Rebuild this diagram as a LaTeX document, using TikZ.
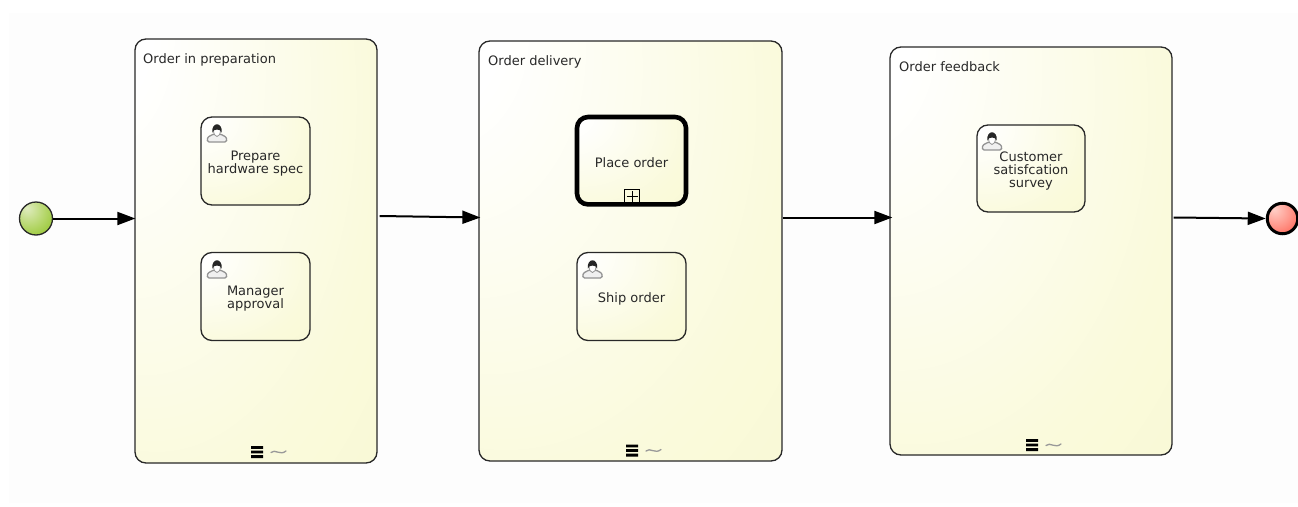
\documentclass[tikz,border=0pt]{standalone}
\usepackage{fontspec}
\setmainfont{DejaVu Sans}
\usetikzlibrary{arrows.meta}
\definecolor{bpmnyel}{HTML}{F8F8CE}
\definecolor{inkc}{HTML}{282828}
\definecolor{st1}{HTML}{E0ECC0}
\definecolor{st2}{HTML}{B4D668}
\definecolor{st3}{HTML}{8CC020}
\definecolor{en1}{HTML}{FFD0C8}
\definecolor{en2}{HTML}{FF9488}
\definecolor{en3}{HTML}{FF5848}
\newcommand\tstrut{\rule{0pt}{14pt}}
\pgfdeclareradialshading{boxshade}{\pgfpoint{-35bp}{30bp}}{color(0bp)=(white);color(10bp)=(white);color(45bp)=(bpmnyel!72!white);color(72bp)=(bpmnyel);color(100bp)=(bpmnyel)}
\pgfdeclareradialshading{startshade}{\pgfpoint{-14bp}{16bp}}{color(0bp)=(st1);color(25bp)=(st2);color(48bp)=(st3);color(100bp)=(st3)}
\pgfdeclareradialshading{endshade}{\pgfpoint{-14bp}{16bp}}{color(0bp)=(en1);color(25bp)=(en2);color(48bp)=(en3);color(100bp)=(en3)}
\tikzset{
  x=1pt,y=-1pt,
  subproc/.style={draw=inkc,line width=1.3pt,rounded corners=11pt,shading=boxshade,inner sep=0pt},
  task/.style={draw=inkc,line width=1.3pt,rounded corners=11pt,shading=boxshade,inner sep=0pt,minimum width=109pt,minimum height=88pt,align=center,font=\fontsize{13}{13}\selectfont,text=inkc},
  calltask/.style={task,draw=black,line width=4.6pt,minimum width=109pt,minimum height=87.4pt},
  sublabel/.style={anchor=base west,inner sep=0pt,font=\fontsize{13}{14}\selectfont,text=inkc},
  flow/.style={draw=black,line width=2pt,-{Triangle[length=18pt,width=13pt]},shorten >=-1pt},
  startev/.style={circle,draw=inkc,line width=1.3pt,minimum size=33pt,inner sep=0pt,shading=startshade},
  endev/.style={circle,draw=black,line width=3pt,minimum size=30.5pt,inner sep=0pt,shading=endshade},
  usericon/.pic={
    \draw[draw=gray!85,fill=black!6,line width=1.3pt,line join=round,rounded corners=1.5pt]
      (-9.5,9.5) .. controls (-10,4) and (-7,3.5) .. (-3.5,1.5) -- (3.5,1.5) .. controls (7,3.5) and (10,4) .. (9.5,9.5) -- cycle;
    \draw[draw=gray!85,fill=white,line width=.8pt] (-3.6,-4) .. controls (-3.8,2) and (-1.5,4) .. (0,4) .. controls (1.5,4) and (3.8,2) .. (3.6,-4) -- cycle;
    \fill[black!85] (-4.6,0) .. controls (-6,-11) and (6,-11) .. (4.6,0) .. controls (4,-4) and (-4,-4) .. (-4.6,0) -- cycle;
  },
  adhocmark/.pic={
    \fill[black] (-6,-6) rectangle (6,-3.2) (-6,-1.4) rectangle (6,1.4) (-6,3.2) rectangle (6,6);
    \draw[gray!80,line width=1.3pt,line cap=round] (14,0.5) .. controls (18,-3.5) and (23,4) .. (29,-1);
  },
}
\begin{document}
\begin{tikzpicture}
\useasboundingbox (0,0) rectangle (1298,506);
\fill[white] (0,0) rectangle (1298,506);
\fill[black!0.7] (9,13) rectangle (1298,503);

% sub-processes
\node[subproc,minimum width=242pt,minimum height=424pt] (sub1) at (256,251) {};
\node[subproc,minimum width=303pt,minimum height=420pt] (sub2) at (630.5,251) {};
\node[subproc,minimum width=282pt,minimum height=408pt] (sub3) at (1031,251) {};

\node[sublabel] (lab1) at (143,63) {Order in preparation};
\node[sublabel] (lab2) at (488,65) {Order delivery};
\node[sublabel] (lab3) at (899,71) {Order feedback};

% tasks
\node[task] (prep) at (255.5,161) {\tstrut Prepare\\hardware spec};
\node[task] (mgr) at (255.5,296.5) {\tstrut Manager\\approval};
\node[calltask] (place) at (631.5,160.7) {\tstrut Place order};
\node[task] (ship) at (631.5,296.5) {\tstrut Ship order};
\node[task,minimum width=108pt,minimum height=87pt] (survey) at (1031,168.5) {\tstrut Customer\\satisfcation\\survey};

% user icons
\pic at (217,132.5) {usericon};
\pic at (217,268.5) {usericon};
\pic at (592.5,268.5) {usericon};
\pic at (992,140.5) {usericon};

% collapsed marker
\node[draw=black,line width=1pt,minimum size=14.5pt,inner sep=0pt] (plusbox) at (632,196.5) {};
\draw[black,line width=.9pt] (plusbox.center) ++(-5.5,0) -- ++(11,0) (plusbox.center) ++(0,-5.5) -- ++(0,11);

% ad-hoc markers
\pic at (257,452) {adhocmark};
\pic at (632,450.5) {adhocmark};
\pic at (1032,445) {adhocmark};

% events
\node[startev] (start) at (36,218.5) {};
\node[endev] (end) at (1282.5,218.5) {};

% flows
\draw[flow] (start.east) -- (start.east -| sub1.west);
\draw[flow] ([shift={(2,-35)}]sub1.east) -- ([shift={(1,-33.5)}]sub2.west);
\draw[flow] ([yshift=33.5pt]sub2.east) -- ([shift={(2,-33.5)}]sub3.west);
\draw[flow] ([shift={(1,-33.5)}]sub3.east) -- ([xshift=-1pt]end.west);
\end{tikzpicture}
\end{document}
